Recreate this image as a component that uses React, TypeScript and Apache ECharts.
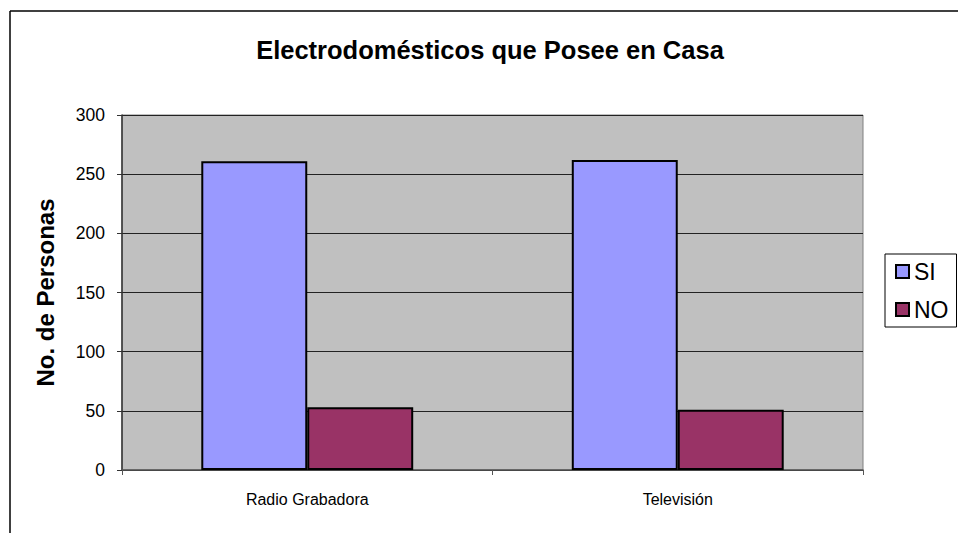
import React, { useEffect, useRef } from "react";
import * as echarts from "echarts";

const categories = ["Radio Grabadora", "Televisión"];
const siValues = [261, 262];
const noValues = [53, 51];
const seriesNames = ["SI", "NO"];
const titleText = "Electrodomésticos que Posee en Casa";
const yAxisName = "No. de Personas";

export default function App() {
  const ref = useRef<HTMLDivElement>(null);
  useEffect(() => {
    if (!ref.current) return;
    const chart = echarts.init(ref.current, undefined, { renderer: "svg" });
    const font = "Liberation Sans, Arial, sans-serif";
    chart.setOption({
      animation: false,
      backgroundColor: "#ffffff",
      textStyle: { fontFamily: font },
      title: {
        text: titleText,
        left: 485,
        textAlign: "center",
        top: 32,
        textStyle: { fontFamily: font, fontSize: 25.5, fontWeight: "bold", color: "#000" },
      },
      graphic: [
        { type: "line", shape: { x1: 10, y1: 11, x2: 958, y2: 11 }, style: { stroke: "#000", lineWidth: 1.5 } },
        { type: "line", shape: { x1: 10, y1: 11, x2: 10, y2: 533 }, style: { stroke: "#000", lineWidth: 1.5 } },
      ],
      legend: {
        orient: "vertical",
        left: 885,
        top: 254,
        padding: [6, 8, 6, 10],
        itemGap: 15,
        itemWidth: 13,
        itemHeight: 13,
        itemTextGap: 7,
        icon: "rect",
        borderColor: "#000",
        borderWidth: 1,
        backgroundColor: "#fff",
        data: seriesNames,
        itemStyle: { borderColor: "#000", borderWidth: 2 },
        textStyle: { fontFamily: font, fontSize: 23, color: "#000" },
      },
      grid: {
        left: 122,
        top: 115,
        width: 741,
        height: 355,
        show: true,
        backgroundColor: "#C0C0C0",
        borderColor: "#808080",
        borderWidth: 1,
        containLabel: false,
      },
      xAxis: {
        type: "category",
        data: categories,
        axisLine: { show: true, lineStyle: { color: "#555", width: 1.5 } },
        axisTick: { show: true, length: 5, lineStyle: { color: "#555" } },
        axisLabel: { fontFamily: font, fontSize: 16, color: "#000", margin: 21 },
      },
      yAxis: {
        type: "value",
        min: 0,
        max: 300,
        interval: 50,
        name: yAxisName,
        nameLocation: "middle",
        nameGap: 65,
        nameRotate: 90,
        nameTextStyle: { fontFamily: font, fontSize: 24, fontWeight: "bold", color: "#000" },
        axisLine: { show: true, lineStyle: { color: "#333", width: 1.5 } },
        axisTick: { show: true, length: 5, lineStyle: { color: "#333" } },
        axisLabel: { fontFamily: font, fontSize: 17.5, color: "#000", margin: 17 },
        splitLine: { show: true, lineStyle: { color: "#222", width: 1 } },
      },
      series: [
        {
          name: seriesNames[0],
          type: "bar",
          data: siValues,
          barGap: "0%",
          barCategoryGap: "42.8%",
          itemStyle: { color: "#9999FF", borderColor: "#000", borderWidth: 2 },
        },
        {
          name: seriesNames[1],
          type: "bar",
          data: noValues,
          barGap: "0%",
          barCategoryGap: "42.8%",
          itemStyle: { color: "#993366", borderColor: "#000", borderWidth: 2 },
        },
      ],
    });
    return () => chart.dispose();
  }, []);
  return (
    <div
      ref={ref}
      style={{ position: "absolute", left: 0, top: 0, width: 958, height: 533 }}
    />
  );
}
